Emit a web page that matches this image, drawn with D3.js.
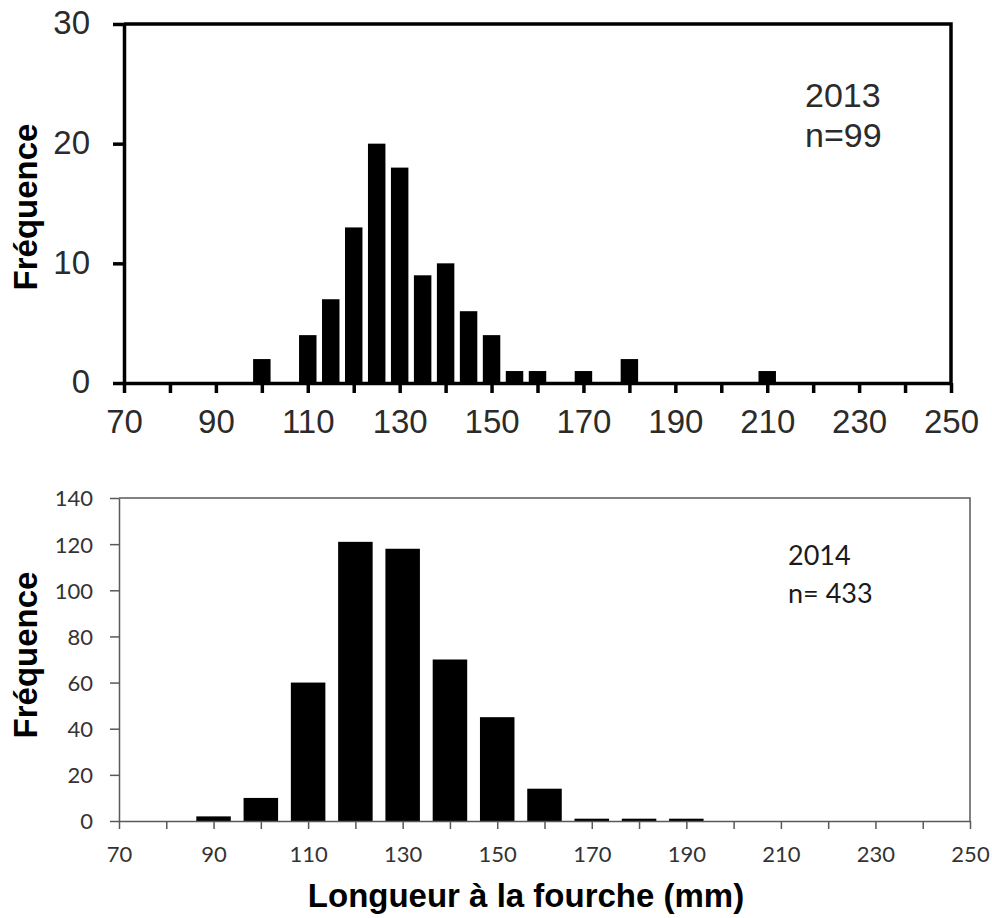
<!DOCTYPE html>
<html>
<head>
<meta charset="utf-8">
<script src="https://cdn.jsdelivr.net/npm/d3@7"></script>
<style>
  body{margin:0;background:#fff;}
  svg{display:block;}
</style>
</head>
<body>
<div id="chart"></div>
<script>
// 2013 histogram (5 mm bins)
const bins2013 = [100,110,115,120,125,130,135,140,145,150,155,160,170,180,210];
const freq2013 = [2,4,7,13,20,18,9,10,6,4,1,1,1,2,1];
// 2014 histogram (10 mm bins)
const bins2014 = [90,100,110,120,130,140,150,160,170,180,190];
const freq2014 = [2,10,60,121,118,70,45,14,1,1,1];
// axis ticks
const xTicks = [70,80,90,100,110,120,130,140,150,160,170,180,190,200,210,220,230,240,250];
const xLabels = [70,90,110,130,150,170,190,210,230,250];
const yTicks2013 = [0,10,20,30];
const yTicks2014 = [0,20,40,60,80,100,120,140];

const w=992, h=918;
const svg = d3.select("#chart").append("svg")
              .attr("width",w)
              .attr("height",h);

//---------------- top chart (2013) ----------------
const g1 = svg.append("g");
const x1 = d3.scaleLinear().domain([70,250]).range([124,951]);
const y1 = d3.scaleLinear().domain([0,30]).range([383,24]);
const arial = "'Liberation Sans', Arial, sans-serif";

g1.selectAll("rect.bar")
   .data(bins2013)
   .enter()
   .append("rect")
   .attr("class","bar")
   .attr("x",(d)=>x1(d-1.9))
   .attr("width",(d)=>x1(d+1.9)-x1(d-1.9))
   .attr("y",(d,i)=>y1(freq2013[i]))
   .attr("height",(d,i)=>y1(0)-y1(freq2013[i]))
   .style("fill","#000");

// frame top & right
g1.append("path")
   .attr("d","M"+x1(70)+","+y1(30)+"H"+x1(250)+"V"+y1(0))
   .attr("fill","none")
   .attr("stroke","#000")
   .attr("stroke-width",3.5);

const xAxis1 = g1.append("g")
   .attr("transform","translate(0,"+y1(0)+")")
   .call(d3.axisBottom(x1).tickValues(xTicks).tickSize(10).tickSizeOuter(0).tickPadding(14)
         .tickFormat((d)=>xLabels.includes(d)?d:""));
const yAxis1 = g1.append("g")
   .attr("transform","translate("+x1(70)+",0)")
   .call(d3.axisLeft(y1).tickValues(yTicks2013).tickSize(11).tickSizeOuter(0).tickPadding(23));

[xAxis1,yAxis1].forEach((a)=>{
  a.selectAll("path,line").attr("stroke","#000").attr("stroke-width",3.5);
  a.selectAll("text").attr("fill","#2b2b2b").style("font-family",arial).style("font-size","33px");
});
xAxis1.selectAll("text").attr("dy","0.8em");
yAxis1.selectAll("text").attr("dy","0.3em");

g1.append("text")
   .attr("transform","translate(37,207) rotate(-90)")
   .attr("text-anchor","middle")
   .style("font-family",arial)
   .style("font-size","33px")
   .style("font-weight","bold")
   .text("Fréquence");

g1.append("text").attr("x",805).attr("y",107)
   .style("font-family",arial).style("font-size","34px").attr("fill","#2b2b2b")
   .text("2013");
g1.append("text").attr("x",805).attr("y",147)
   .style("font-family",arial).style("font-size","34px").attr("fill","#2b2b2b")
   .text("n=99");

//---------------- bottom chart (2014) ----------------
const g2 = svg.append("g");
const x2 = d3.scaleLinear().domain([70,250]).range([119,970]);
const y2 = d3.scaleLinear().domain([0,140]).range([821,498]);
const lato = "Lato, 'Open Sans', sans-serif";

g2.selectAll("rect.bar")
   .data(bins2014)
   .enter()
   .append("rect")
   .attr("class","bar")
   .attr("x",(d)=>x2(d-3.65))
   .attr("width",(d)=>x2(d+3.65)-x2(d-3.65))
   .attr("y",(d,i)=>y2(freq2014[i]))
   .attr("height",(d,i)=>y2(0)-y2(freq2014[i]))
   .style("fill","#000");

g2.append("path")
   .attr("d","M"+x2(70)+","+y2(140)+"H"+x2(250)+"V"+y2(0))
   .attr("fill","none")
   .attr("stroke","#595959")
   .attr("stroke-width",1.5);

const xAxis2 = g2.append("g")
   .attr("transform","translate(0,"+y2(0)+")")
   .call(d3.axisBottom(x2).tickValues(xTicks).tickSize(8).tickSizeOuter(0).tickPadding(17)
         .tickFormat((d)=>xLabels.includes(d)?d:""));
const yAxis2 = g2.append("g")
   .attr("transform","translate("+x2(70)+",0)")
   .call(d3.axisLeft(y2).tickValues(yTicks2014).tickSize(9).tickSizeOuter(0).tickPadding(17));

[xAxis2,yAxis2].forEach((a)=>{
  a.selectAll("path,line").attr("stroke","#595959").attr("stroke-width",1.5);
  a.selectAll("text").attr("fill","#333").style("font-family",lato).style("font-size","22px");
});
xAxis2.selectAll("text").attr("dy","0.72em");
yAxis2.selectAll("text").attr("dy","0.36em");

g2.append("text")
   .attr("transform","translate(37,655) rotate(-90)")
   .attr("text-anchor","middle")
   .style("font-family",arial)
   .style("font-size","33px")
   .style("font-weight","bold")
   .text("Fréquence");

g2.append("text").attr("x",788).attr("y",565)
   .style("font-family",lato).style("font-size","27px").attr("fill","#1a1a1a")
   .text("2014");
g2.append("text").attr("x",788).attr("y",603)
   .style("font-family",lato).style("font-size","27px").attr("fill","#1a1a1a")
   .text("n= 433");

svg.append("text")
   .attr("x",526).attr("y",907)
   .attr("text-anchor","middle")
   .style("font-family",arial)
   .style("font-size","33px")
   .style("font-weight","bold")
   .text("Longueur à la fourche (mm)");
</script>
</body>
</html>
